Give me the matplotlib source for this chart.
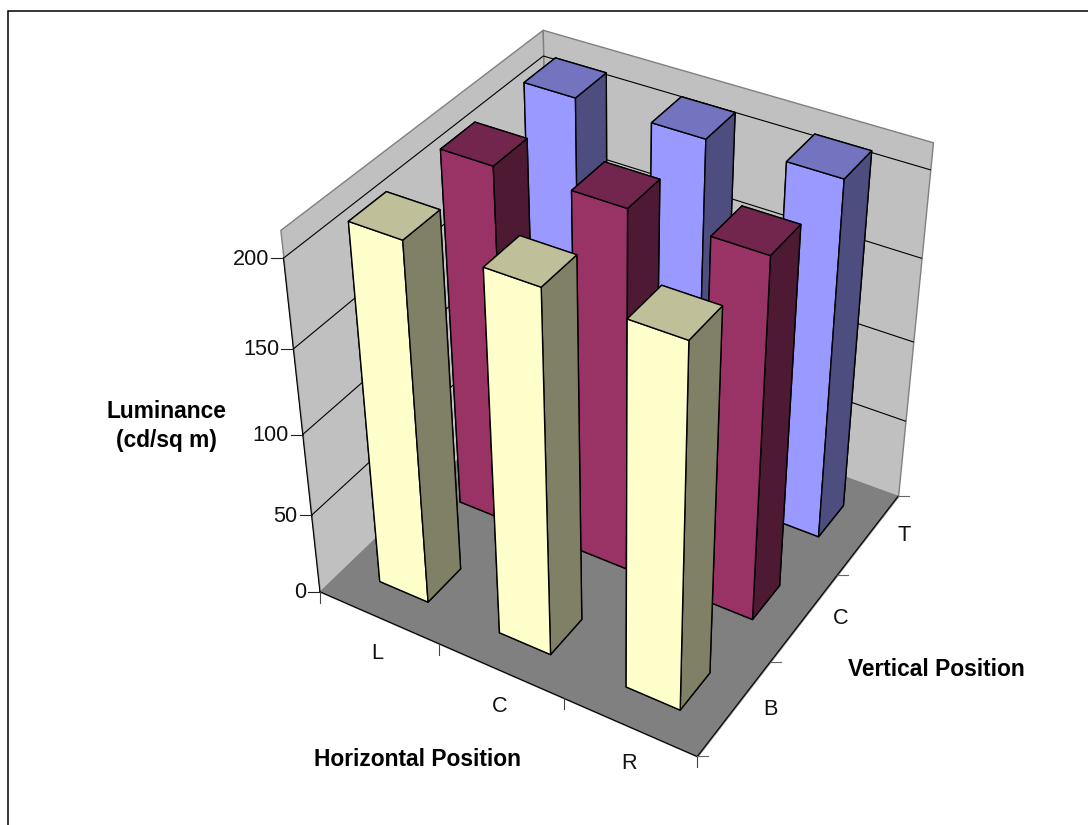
import numpy as np
import matplotlib
matplotlib.use("Agg")
import matplotlib.pyplot as plt
from mpl_toolkits.mplot3d.art3d import Poly3DCollection

plt.rcParams["font.family"] = ["Liberation Sans", "DejaVu Sans"]

horizontal = ["L", "C", "R"]
vertical = ["B", "C", "T"]
z_ticks = [0, 50, 100, 150, 200]
z_top = 215

# luminance per horizontal position, one list per vertical position
lum_bottom = [214.5, 215, 214]
lum_center = [214.5, 215, 214.5]
lum_top = [215, 214, 215]

side_colors = {
    "B": ["#FFFFCC", "#BFBF99", "#FFFFCC", "#FFFFCC", "#808066", "#808066"],
    "C": ["#993366", "#73264D", "#993366", "#993366", "#4D1933", "#4D1933"],
    "T": ["#9999FF", "#7373BF", "#9999FF", "#9999FF", "#4D4D80", "#4D4D80"],
}
bar_dx = 0.41
bar_dy = 0.40

# camera fitted from where known points of the box land on the canvas
W, H = 1088, 825
known_world = [
    (0, 0, 0), (1, 0, 0), (2, 0, 0), (3, 0, 0), (3, 1, 0), (3, 2, 0), (3, 3, 0),
    (0, 0, 50), (0, 0, 100), (0, 0, 150), (0, 0, 200), (0, 0, 215),
    (3, 3, 50), (3, 3, 100), (3, 3, 150), (3, 3, 200), (3, 3, 215),
    (0, 3, 200), (0, 3, 215),
]
known_px = [
    (320, 592.3), (439, 644), (564, 698.5), (696.7, 756), (769.3, 662.7), (838.3, 575), (898.3, 496),
    (311.7, 515), (302.7, 434), (293.3, 349), (284, 258.3), (280, 229.3),
    (905, 420), (913, 342.7), (921.3, 258), (931, 170), (933.3, 142.7),
    (542.7, 56.7), (542.7, 29.3),
]


def fit_camera(world, px):
    rows, rhs = [], []
    for (x, y, z), (u, v) in zip(world, px):
        x, y, z = x / 3, y / 3, z / z_top
        u, v = u / 1000, v / 1000
        rows.append([x, y, z, 1, 0, 0, 0, 0, -u * x, -u * y, -u * z])
        rows.append([0, 0, 0, 0, x, y, z, 1, -v * x, -v * y, -v * z])
        rhs += [u, v]
    p = np.linalg.lstsq(np.array(rows), np.array(rhs), rcond=None)[0]
    cam = np.append(p, 1).reshape(3, 4)
    cam[:2] *= 1000
    return cam @ np.diag([1 / 3, 1 / 3, 1 / z_top, 1])


cam = fit_camera(known_world, known_px)
cam = cam / (cam[2] @ [1.5, 1.5, 0, 1])


def to_px(x, y, z):
    u, v, w = cam @ [x, y, z, 1]
    return u / w, v / w


fig = plt.figure(figsize=(W / 100, H / 100), dpi=100, facecolor="white")

# square axes centred on the canvas, taller than the page
ax = fig.add_axes([0, (H - W) / 2 / H, 1, W / H], projection="3d", computed_zorder=False)
ax.set_axis_off()
ax.patch.set_visible(False)
# ortho only switches off line clipping here, get_proj below does the projecting
ax.set_proj_type("ortho")


def get_proj():
    x0, x1 = ax.viewLim.intervalx
    y0, y1 = ax.viewLim.intervaly
    pad = (W - H) / 2
    sx = (x1 - x0) / W
    sy = (y1 - y0) / W
    m = np.zeros((4, 4))
    m[0] = x0 * cam[2] + sx * cam[0]
    m[1] = y0 * cam[2] + sy * ((H + pad) * cam[2] - cam[1])
    m[2] = [-1 / 3, 1 / 3, -0.3 / z_top, 0]
    m[3] = cam[2]
    return m


ax.get_proj = get_proj

# floor and the two walls
floor = [[(0, 0, 0), (3, 0, 0), (3, 3, 0), (0, 3, 0)]]
left_wall = [[(0, 0, 0), (0, 3, 0), (0, 3, z_top), (0, 0, z_top)]]
back_wall = [[(0, 3, 0), (3, 3, 0), (3, 3, z_top), (0, 3, z_top)]]
ax.add_collection3d(Poly3DCollection(left_wall, facecolors="#C0C0C0", edgecolors="#808080", linewidths=1, zorder=1))
ax.add_collection3d(Poly3DCollection(back_wall, facecolors="#C0C0C0", edgecolors="#808080", linewidths=1, zorder=1))
ax.add_collection3d(Poly3DCollection(floor, facecolors="#808080", edgecolors="#808080", linewidths=1, zorder=2))

for z in z_ticks[1:]:
    ax.plot([0, 0, 3], [0, 3, 3], [z, z, z], color="black", lw=0.8, zorder=3)

# value axis and the front edges of the floor
ax.plot([0, 0], [0, 0], [0, 200], color="black", lw=0.8, zorder=4)
ax.plot([0, 3, 3], [0, 0, 3], [0, 0, 0], color="black", lw=0.8, zorder=4)

# bars, back row first
order = 10
for name, values in [("T", lum_top), ("C", lum_center), ("B", lum_bottom)]:
    j = vertical.index(name)
    for i, val in enumerate(values):
        ax.bar3d(i + (1 - bar_dx) / 2, j + (1 - bar_dy) / 2, 0, bar_dx, bar_dy, val,
                 color=side_colors[name], edgecolor="black", linewidth=1.0,
                 shade=False, zorder=order)
        order += 1

# ticks and labels live on a flat layer measured in canvas pixels
over = fig.add_axes([0, 0, 1, 1])
over.set_xlim(0, W)
over.set_ylim(H, 0)
over.axis("off")
over.patch.set_visible(False)

# frame around the chart area, running off the canvas on two sides
over.plot([7.5, 7.5, W], [H, 10.5, 10.5], color="black", lw=1.1, solid_joinstyle="miter")

font = 15.6
bold_font = 16.4
for z in z_ticks:
    u, v = to_px(0, 0, z)
    over.plot([u - 12, u], [v, v], color="#222222", lw=0.8)
    over.text(u - 14, v + 1, str(z), ha="right", va="center", fontsize=font, color="#111111")

for i in range(4):
    u, v = to_px(i, 0, 0)
    over.plot([u, u], [v, v + 11], color="#444444", lw=0.8)
for j in range(4):
    u, v = to_px(3, j, 0)
    over.plot([u, u + 11], [v, v], color="#666666", lw=0.8)

for i, lab in enumerate(horizontal):
    u, v = to_px(i + 0.5, 0, 0)
    over.text(u - 1, v + 36, lab, ha="center", va="center", fontsize=font, color="#111111")
for j, lab in enumerate(vertical):
    u, v = to_px(3, j + 0.5, 0)
    over.text(u + 36, v + 1, lab, ha="center", va="center", fontsize=font, color="#111111")

over.text(166, 411, "Luminance", ha="center", va="center", fontsize=bold_font, fontweight="bold")
over.text(166, 441, "(cd/sq m)", ha="center", va="center", fontsize=bold_font, fontweight="bold")
over.text(417, 759, "Horizontal Position", ha="center", va="center", fontsize=bold_font, fontweight="bold")
over.text(936, 669, "Vertical Position", ha="center", va="center", fontsize=bold_font, fontweight="bold")

fig.savefig("out.png", dpi=100)
